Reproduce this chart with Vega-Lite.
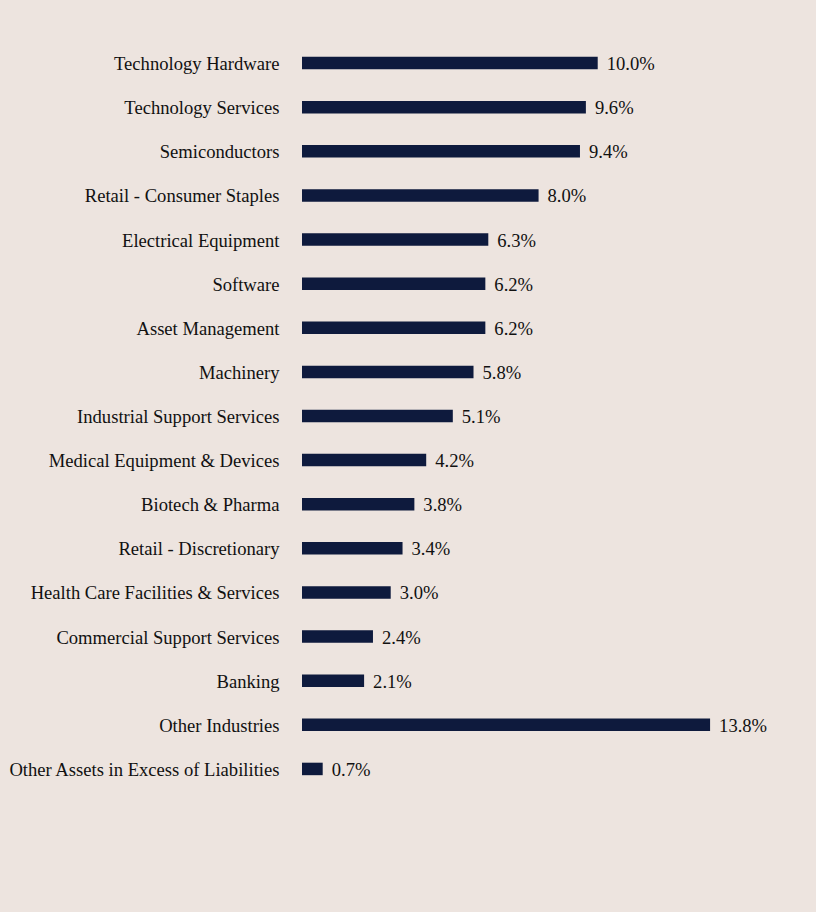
{
  "$schema": "https://vega.github.io/schema/vega-lite/v6.json",
  "autosize": "none",
  "width": 414,
  "height": 750,
  "padding": {"left": 302, "top": 41, "right": 100, "bottom": 121},
  "background": "#EDE4DF",
  "config": {"view": {"stroke": null}, "font": "Liberation Serif"},
  "data": {"values": [
    {"sector": "Technology Hardware", "v": 0.100},
    {"sector": "Technology Services", "v": 0.096},
    {"sector": "Semiconductors", "v": 0.094},
    {"sector": "Retail - Consumer Staples", "v": 0.080},
    {"sector": "Electrical Equipment", "v": 0.063},
    {"sector": "Software", "v": 0.062},
    {"sector": "Asset Management", "v": 0.062},
    {"sector": "Machinery", "v": 0.058},
    {"sector": "Industrial Support Services", "v": 0.051},
    {"sector": "Medical Equipment & Devices", "v": 0.042},
    {"sector": "Biotech & Pharma", "v": 0.038},
    {"sector": "Retail - Discretionary", "v": 0.034},
    {"sector": "Health Care Facilities & Services", "v": 0.030},
    {"sector": "Commercial Support Services", "v": 0.024},
    {"sector": "Banking", "v": 0.021},
    {"sector": "Other Industries", "v": 0.138},
    {"sector": "Other Assets in Excess of Liabilities", "v": 0.007}
  ]},
  "encoding": {
    "y": {"field": "sector", "type": "nominal", "sort": null,
      "scale": {"padding": 0},
      "axis": {"title": null, "ticks": false, "domain": false, "labelPadding": 23, "labelOffset": 1,
        "labelFont": "Liberation Serif", "labelFontSize": 18.6, "labelColor": "#111111", "labelLimit": 400}},
    "x": {"field": "v", "type": "quantitative", "scale": {"domain": [0, 0.14]}, "axis": null}
  },
  "layer": [
    {"mark": {"type": "bar", "height": 12.5, "color": "#0E1A3D"}},
    {"mark": {"type": "text", "align": "left", "baseline": "middle", "dx": 9, "dy": 1, "fontSize": 18.6, "font": "Liberation Serif", "color": "#111111"},
     "encoding": {"text": {"field": "v", "format": ".1%"}}}
  ]
}
